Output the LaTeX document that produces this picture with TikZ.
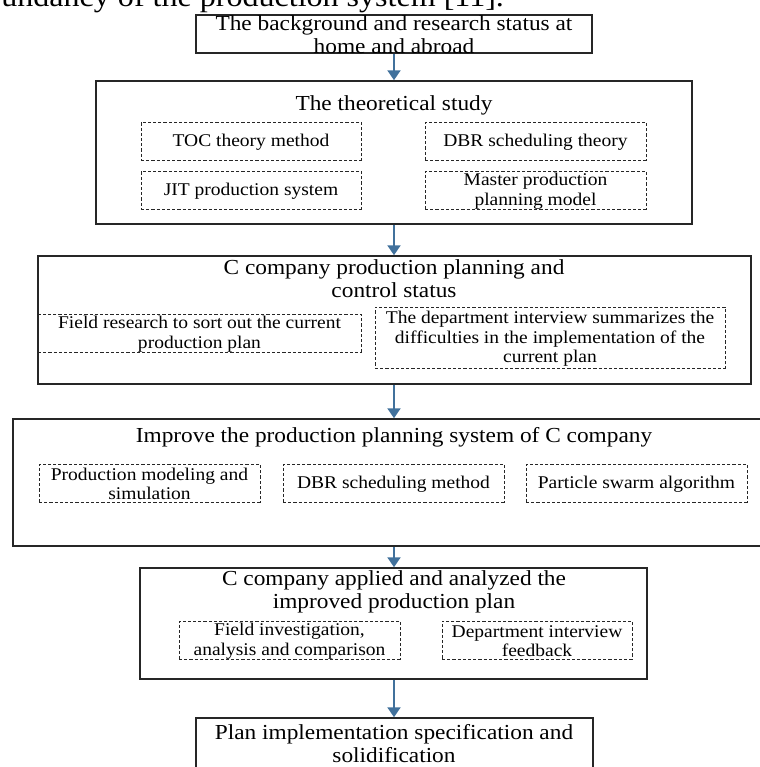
\documentclass[tikz,border=0pt]{standalone}
\usepackage{fontspec}
\setmainfont{Liberation Serif}[FakeStretch=1.09]
\usetikzlibrary{arrows.meta,fit}

\definecolor{framegray}{HTML}{262626}
\definecolor{flowblue}{HTML}{41719C}

\tikzset{
  outerbox/.style={draw=framegray, line width=0.75pt, inner sep=0pt},
  innerbox/.style={draw=framegray, line width=0.5pt, dash pattern=on 1.6pt off 1pt, inner sep=0pt},
  titletext/.style={inner sep=0pt, align=center, font=\fontsize{10.7}{11.5}\selectfont},
  subtext/.style={inner sep=0pt, align=center, yshift=-0.6pt, font=\fontsize{8.95}{9.6}\selectfont},
  flow/.style={draw=flowblue, line width=1pt, -{Triangle[width=6.5pt,length=5pt]}}
}

\begin{document}
\begin{tikzpicture}[x=0.5pt, y=-0.5pt]
\clip (0,0) rectangle (760,767);

% running text of the page above the chart
\node[anchor=base west, inner sep=0pt, font=\fontsize{14.7}{16}\selectfont] (prose) at (1,6)
  {undancy of the production system [11].};

% 1: background
\node[outerbox, fit={(196,15)(592,53)}] (b1) {};
\node[titletext] (t1) at (394,34.5) {The background and research status at\\home and abroad};

% 2: theoretical study
\node[outerbox, fit={(96,81)(692,224)}] (b2) {};
\node[titletext] (t2) at (394,105) {The theoretical study};
\node[innerbox, fit={(141,122)(361,160)}] (toc) {};
\node[subtext] at (toc.center) {TOC theory method};
\node[innerbox, fit={(425,122)(646,160)}] (dbr) {};
\node[subtext] at (dbr.center) {DBR scheduling theory};
\node[innerbox, fit={(141,171)(361,209)}] (jit) {};
\node[subtext] at (jit.center) {JIT production system};
\node[innerbox, fit={(425,171)(646,209)}] (mps) {};
\node[subtext] at (mps.center) {Master production\\planning model};

% 3: current status
\node[outerbox, fit={(38,256)(751,384)}] (b3) {};
\node[titletext] (t3) at (394,279) {C company production planning and\\control status};
\node[innerbox, fit={(38,314)(361,352)}] (field) {};
\node[subtext] at (field.center) {Field research to sort out the current\\production plan};
\node[innerbox, fit={(375,307)(725,368)}] (dept) {};
\node[subtext] at (dept.center) {The department interview summarizes the\\difficulties in the implementation of the\\current plan};

% 4: improvement
\node[outerbox, fit={(13,419)(790,546)}] (b4) {};
\node[titletext] (t4) at (394,437) {Improve the production planning system of C company};
\node[innerbox, fit={(39,464)(260,502)}] (model) {};
\node[subtext] at (model.center) {Production modeling and\\simulation};
\node[innerbox, fit={(283,464)(504,502)}] (dbrm) {};
\node[subtext] at (dbrm.center) {DBR scheduling method};
\node[innerbox, fit={(526,464)(747,502)}] (pso) {};
\node[subtext] at (pso.center) {Particle swarm algorithm};

% 5: application
\node[outerbox, fit={(140,568)(647,679)}] (b5) {};
\node[titletext] (t5) at (394,592) {C company applied and analyzed the\\improved production plan};
\node[innerbox, fit={(179,621)(400,659)}] (inv) {};
\node[subtext] at (inv.center) {Field investigation,\\analysis and comparison};
\node[innerbox, fit={(442,621)(632,659)}] (fb) {};
\node[subtext] at (fb.center) {Department interview\\feedback};

% 6: solidification
\node[outerbox, fit={(196,718)(593,800)}] (b6) {};
\node[titletext] (t6) at (394,744) {Plan implementation specification and\\solidification};

% flow arrows
\draw[flow] (b1.south -| 394,0) -- (b2.north -| 394,0);
\draw[flow] (b2.south -| 394,0) -- (b3.north -| 394,0);
\draw[flow] (b3.south -| 394,0) -- (b4.north -| 394,0);
\draw[flow] (b4.south -| 394,0) -- (b5.north -| 394,0);
\draw[flow] (b5.south -| 394,0) -- (b6.north -| 394,0);
\end{tikzpicture}
\end{document}
